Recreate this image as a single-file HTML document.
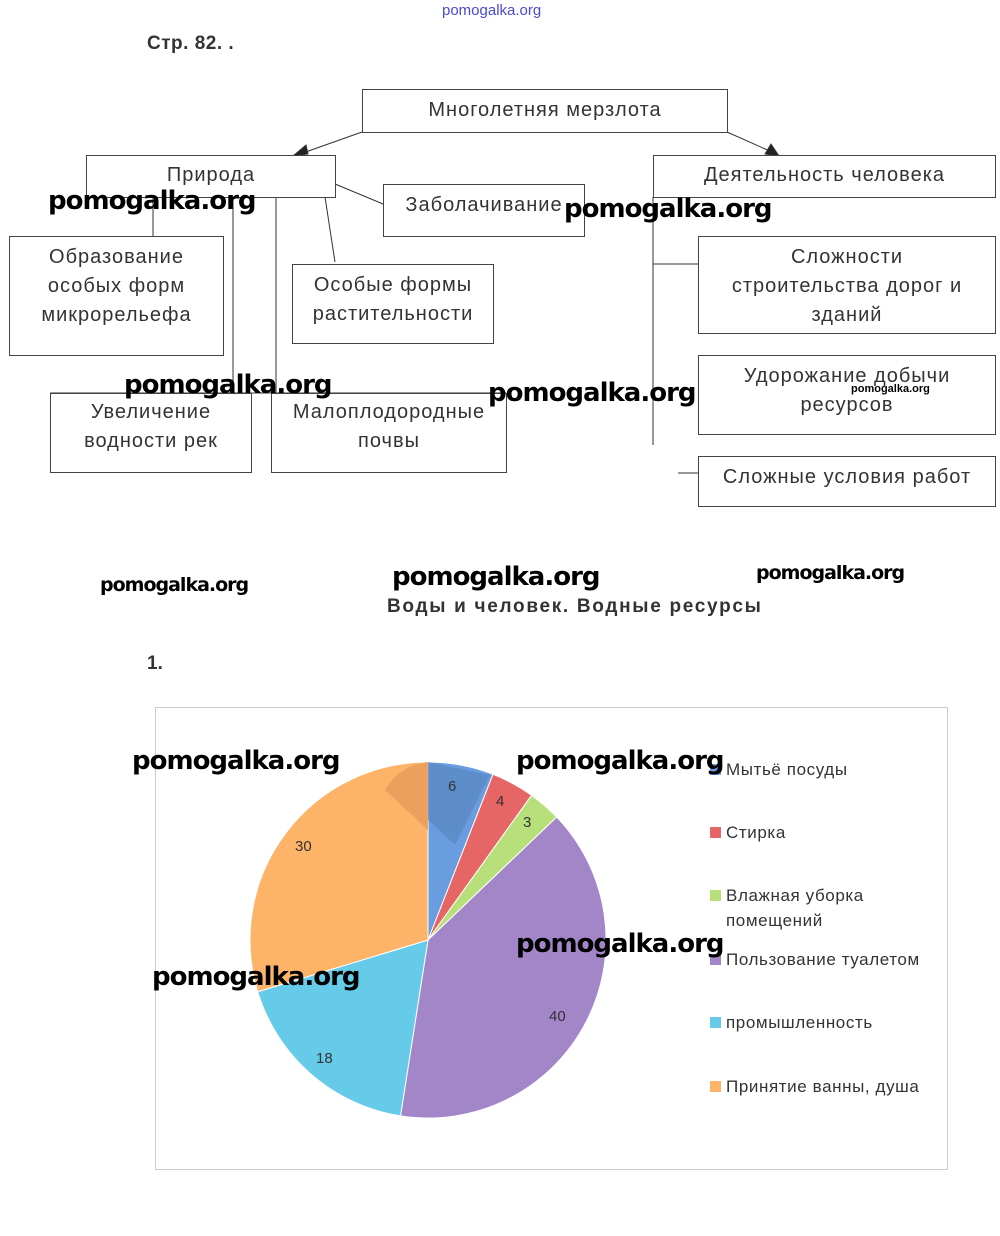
<!DOCTYPE html>
<html><head><meta charset="utf-8"><style>
body{margin:0;width:1000px;height:1236px;background:#fff;position:relative;font-family:"Liberation Sans",sans-serif;overflow:hidden}
.b{position:absolute;border:1px solid #444;box-sizing:border-box;text-align:center;color:#333;font-size:20px;line-height:29px;background:#fff;letter-spacing:1px;white-space:nowrap}
.t{position:absolute;color:#333}
.w{position:absolute;font-family:"DejaVu Sans",sans-serif;font-weight:bold;color:#000;font-size:26px;letter-spacing:-1px}
.l{position:absolute;font-size:17px;color:#333;letter-spacing:.6px}
.sq{display:inline-block;width:11px;height:11px;margin-right:5px}
</style></head><body>
<div class="t" style="left:442px;top:2px;font-size:15px;color:#4a4ad0">pomogalka.org</div>
<div class="t" style="left:147px;top:33px;font-size:19px;font-weight:bold;letter-spacing:.5px">Стр. 82. .</div>
<svg width="1000" height="520" style="position:absolute;left:0;top:0" stroke="#333" stroke-width="1" fill="none">
<line x1="362" y1="132" x2="300" y2="154"/><polygon points="293,156 306,145 308,154" fill="#222"/>
<line x1="727" y1="132" x2="772" y2="152"/><polygon points="779,156 765,154 771,144" fill="#222"/>
<line x1="335" y1="184" x2="383" y2="204"/>
<line x1="325" y1="197" x2="335" y2="262"/>
<line x1="153" y1="197" x2="153" y2="236"/>
<line x1="233" y1="197" x2="233" y2="384"/>
<line x1="276" y1="197" x2="276" y2="394"/>
<line x1="50" y1="393" x2="506" y2="393"/>
<line x1="653" y1="197" x2="653" y2="445"/>
<line x1="653" y1="264" x2="700" y2="264"/>
<line x1="678" y1="473" x2="700" y2="473"/>
</svg>
<div class="b" style="left:362px;top:89px;width:366px;height:44px;line-height:40px">Многолетняя мерзлота</div>
<div class="b" style="left:86px;top:155px;width:250px;height:43px;line-height:38px">Природа</div>
<div class="b" style="left:653px;top:155px;width:343px;height:43px;line-height:38px">Деятельность человека</div>
<div class="b" style="left:383px;top:184px;width:202px;height:53px;line-height:40px">Заболачивание</div>
<div class="b" style="left:9px;top:236px;width:215px;height:120px;padding-top:6px">Образование<br>особых форм<br>микрорельефа</div>
<div class="b" style="left:292px;top:264px;width:202px;height:80px;padding-top:6px">Особые формы<br>растительности</div>
<div class="b" style="left:698px;top:236px;width:298px;height:98px;padding-top:6px">Сложности<br>строительства дорог и<br>зданий</div>
<div class="b" style="left:698px;top:355px;width:298px;height:80px;padding-top:6px">Удорожание добычи<br>ресурсов</div>
<div class="b" style="left:50px;top:393px;width:202px;height:80px;padding-top:4px">Увеличение<br>водности рек</div>
<div class="b" style="left:271px;top:393px;width:236px;height:80px;padding-top:4px">Малоплодородные<br>почвы</div>
<div class="b" style="left:698px;top:456px;width:298px;height:51px;line-height:40px">Сложные условия работ</div>
<div class="t" style="left:851px;top:383px;font-size:11px;color:#000;font-weight:bold">pomogalka.org</div>

<div class="t" style="left:387px;top:596px;font-size:19px;font-weight:bold;letter-spacing:1.7px">Воды и человек. Водные ресурсы</div>
<div class="t" style="left:147px;top:653px;font-size:19px;font-weight:bold">1.</div>
<div style="position:absolute;left:155px;top:707px;width:793px;height:463px;border:1px solid #ccc;box-sizing:border-box"></div>
<svg width="1000" height="1236" style="position:absolute;left:0;top:0">
<g stroke="#fff" stroke-width="1">
<path d="M428,940 L428,762 A178,178 0 0 1 493,774.3 Z" fill="#6a9de0"/>
<path d="M428,940 L493,774.3 A178,178 0 0 1 531.6,795.3 Z" fill="#e66565"/>
<path d="M428,940 L531.6,795.3 A178,178 0 0 1 556.7,817 Z" fill="#b8e07a"/>
<path d="M428,940 L556.7,817 A178,178 0 0 1 400.5,1115.9 Z" fill="#a286c8"/>
<path d="M428,940 L400.5,1115.9 A178,178 0 0 1 257.7,991.8 Z" fill="#66cbe8"/>
<path d="M428,940 L257.7,991.8 A178,178 0 0 1 428,762 Z" fill="#fdb469"/>
</g>
<path d="M428,762 L428,830 L385,790 Q400,765 428,762Z" fill="#e89a5a" opacity=".8"/>
<path d="M428,762 L490,775 L455,845 L428,820Z" fill="#5a88c0" opacity=".7"/>
<g font-family="Liberation Sans,sans-serif" font-size="15" fill="#333">
<text x="448" y="791">6</text><text x="496" y="806">4</text><text x="523" y="827">3</text>
<text x="295" y="851">30</text><text x="549" y="1021">40</text><text x="316" y="1063">18</text>
</g>
</svg>
<div class="l" style="left:710px;top:760px"><span class="sq" style="background:#6a9de0"></span>Мытьё посуды</div>
<div class="l" style="left:710px;top:823px"><span class="sq" style="background:#e66565"></span>Стирка</div>
<div class="l" style="left:710px;top:886px"><span class="sq" style="background:#b8e07a"></span>Влажная уборка</div>
<div class="l" style="left:726px;top:911px">помещений</div>
<div class="l" style="left:710px;top:950px"><span class="sq" style="background:#a286c8"></span>Пользование туалетом</div>
<div class="l" style="left:710px;top:1013px"><span class="sq" style="background:#66cbe8"></span>промышленность</div>
<div class="l" style="left:710px;top:1077px"><span class="sq" style="background:#fdb469"></span>Принятие ванны, душа</div>

<div class="w" style="left:48px;top:186px">pomogalka.org</div>
<div class="w" style="left:564px;top:194px">pomogalka.org</div>
<div class="w" style="left:124px;top:370px">pomogalka.org</div>
<div class="w" style="left:488px;top:378px">pomogalka.org</div>
<div class="w" style="left:100px;top:574px;font-size:19px">pomogalka.org</div>
<div class="w" style="left:392px;top:562px">pomogalka.org</div>
<div class="w" style="left:756px;top:562px;font-size:19px">pomogalka.org</div>
<div class="w" style="left:132px;top:746px">pomogalka.org</div>
<div class="w" style="left:516px;top:746px">pomogalka.org</div>
<div class="w" style="left:516px;top:929px">pomogalka.org</div>
<div class="w" style="left:152px;top:962px">pomogalka.org</div>
</body></html>
